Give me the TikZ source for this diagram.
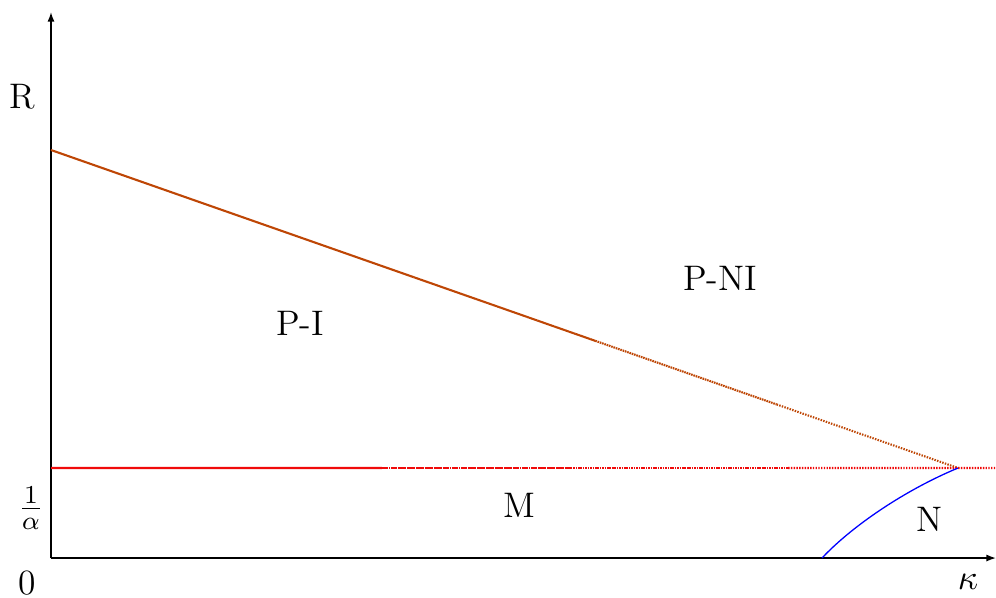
\documentclass[tikz,border=0pt]{standalone}
\usetikzlibrary{arrows.meta,calc}
\definecolor{brn}{RGB}{190,70,5}
\definecolor{rd}{RGB}{240,10,10}
\begin{document}
\begin{tikzpicture}[x=0.31pt,y=-0.31pt,
  lbl/.style={inner sep=0pt,font=\fontsize{11}{13}\selectfont},
  axis/.style={line width=0.45pt,-{Latex[length=3pt,width=2.2pt]}},
  dA/.style={dash pattern=on 0.6pt off 0.1pt},
  dB/.style={dash pattern=on 0.5pt off 0.25pt},
  dC/.style={dash pattern=on 0.45pt off 0.4pt}]
\useasboundingbox (0,0) rectangle (996,597);
\coordinate (O) at (51,558);
\coordinate (xe) at (996,558);
\coordinate (ye) at (51,12);
\coordinate (b0) at (51,150);
\coordinate (T) at (958,468);
\coordinate (r0) at (51,468);
\coordinate (r1) at (996,468);
\coordinate (n0) at (822,558);
\draw[axis] (O) -- (xe);
\draw[axis] (O) -- (ye);
% brown line
\draw[brn,line width=0.65pt] (b0) -- ($(b0)!0.4!(T)$);
\draw[brn,line width=0.65pt,dA] ($(b0)!0.4!(T)$) -- ($(b0)!0.6!(T)$);
\draw[brn,line width=0.65pt,dB] ($(b0)!0.6!(T)$) -- ($(b0)!0.8!(T)$);
\draw[brn,line width=0.65pt,dC] ($(b0)!0.8!(T)$) -- (T);
% red line
\draw[rd,line width=0.65pt] (r0) -- ($(r0)!0.35!(r1)$);
\draw[rd,line width=0.65pt,dA] ($(r0)!0.35!(r1)$) -- ($(r0)!0.55!(r1)$);
\draw[rd,line width=0.65pt,dB] ($(r0)!0.55!(r1)$) -- ($(r0)!0.78!(r1)$);
\draw[rd,line width=0.65pt,dC] ($(r0)!0.78!(r1)$) -- (r1);
% blue curve
\draw[blue,line width=0.4pt] (n0) .. controls (852,526) and (905,490) .. (T);
% labels
\node[lbl] (R) at (22,97) {R};
\node[lbl] (zero) at (27,583) {0};
\node[lbl] (alpha) at (31,508) {$\frac{1}{\alpha}$};
\node[lbl] (kappa) at (968,582) {$\kappa$};
\node[lbl] (PI) at (300,323) {P-I};
\node[lbl] (PNI) at (720,278) {P-NI};
\node[lbl] (M) at (519,505) {M};
\node[lbl] (N) at (929,519) {N};
\end{tikzpicture}
\end{document}
